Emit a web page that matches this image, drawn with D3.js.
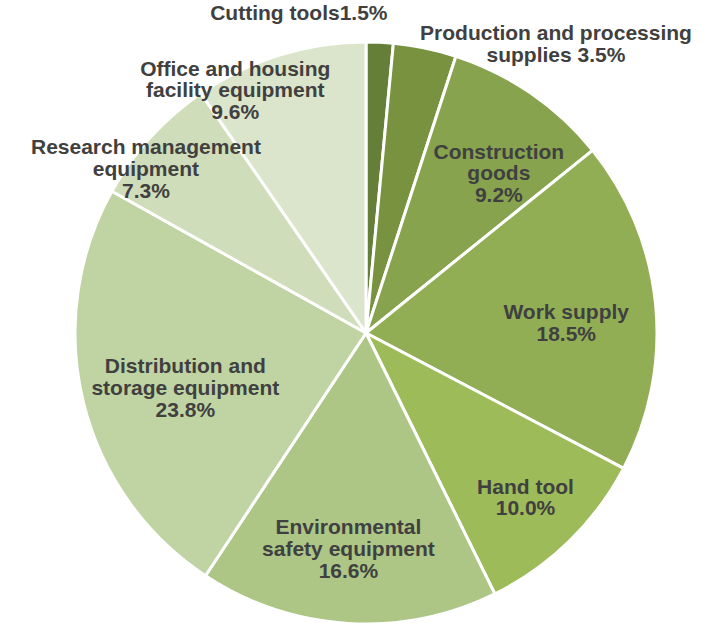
<!DOCTYPE html>
<html>
<head>
<meta charset="utf-8">
<script src="https://cdn.jsdelivr.net/npm/d3@7"></script>
<style>
  html, body { margin: 0; padding: 0; background: #ffffff; }
  svg { display: block; }
</style>
</head>
<body>
<svg id="chart" width="723" height="624"></svg>
<script>
// Share of purchases by product group (%), clockwise from 12 o'clock
const categories = [
  "Cutting tools",
  "Production and processing supplies",
  "Construction goods",
  "Work supply",
  "Hand tool",
  "Environmental safety equipment",
  "Distribution and storage equipment",
  "Research management equipment",
  "Office and housing facility equipment"
];
const shares = [1.5, 3.5, 9.2, 18.5, 10.0, 16.6, 23.8, 7.3, 9.6];

// Label text lines (value appended from shares)
const labelLines = [
  ["Cutting tools{v}"],
  ["Production and processing", "supplies {v}"],
  ["Construction", "goods", "{v}"],
  ["Work supply", "{v}"],
  ["Hand tool", "{v}"],
  ["Environmental", "safety equipment", "{v}"],
  ["Distribution and", "storage equipment", "{v}"],
  ["Research management", "equipment", "{v}"],
  ["Office and housing", "facility equipment", "{v}"]
];

const sliceColors = [
  "#657f38", "#78923f", "#88a34d", "#92ae55", "#9dbb59",
  "#adc686", "#c0d4a3", "#d0ddba", "#dbe5cc"
];

// Label shifts away from the slice centroid (at 72% radius)
const labelShift = [
  [-77, -110.5], [147.5, -83.5], [14, 13.5], [-8.3, 10.8], [13.2, 15],
  [-4.4, 7.4], [22.9, 6.1], [-65.1, -22.7], [-68.5, -42.1]
];

const svg = d3.select("#chart");
const cx = 366, cy = 333, radius = 291;
const g = svg.append("g").attr("transform", `translate(${cx},${cy})`);

const data = categories.map((c, i) => ({ name: c, value: shares[i], i }));

const pie = d3.pie().value(d => d.value).sort(null)
  .startAngle(0).endAngle(2 * Math.PI);
const arcs = pie(data);

const arc = d3.arc().innerRadius(0).outerRadius(radius);
const labelArc = d3.arc().innerRadius(radius * 0.72).outerRadius(radius * 0.72);

g.selectAll("path.slice")
  .data(arcs)
  .join("path")
  .attr("class", "slice")
  .attr("d", arc)
  .attr("fill", d => sliceColors[d.data.i])
  .attr("stroke", "#ffffff")
  .attr("stroke-width", 3)
  .attr("stroke-linejoin", "round");

const lineHeight = 21.7;
const fmt = d3.format(".1f");

g.selectAll("text.label")
  .data(arcs)
  .join("text")
  .attr("class", "label")
  .attr("text-anchor", "middle")
  .attr("font-family", "'Liberation Sans', Arial, sans-serif")
  .attr("font-weight", "bold")
  .attr("font-size", "21px")
  .attr("fill", "#404040")
  .each(function (d) {
    const [px, py] = labelArc.centroid(d);
    const [sx, sy] = labelShift[d.data.i];
    const x = px + sx, y = py + sy;
    const lines = labelLines[d.data.i].map(s => s.replace("{v}", fmt(d.data.value) + "%"));
    const firstBaseline = y - (lines.length - 1) / 2 * lineHeight + 6.5;
    d3.select(this).selectAll("tspan")
      .data(lines)
      .join("tspan")
      .attr("x", x)
      .attr("y", (s, k) => firstBaseline + k * lineHeight)
      .text(s => s);
  });
</script>
</body>
</html>
